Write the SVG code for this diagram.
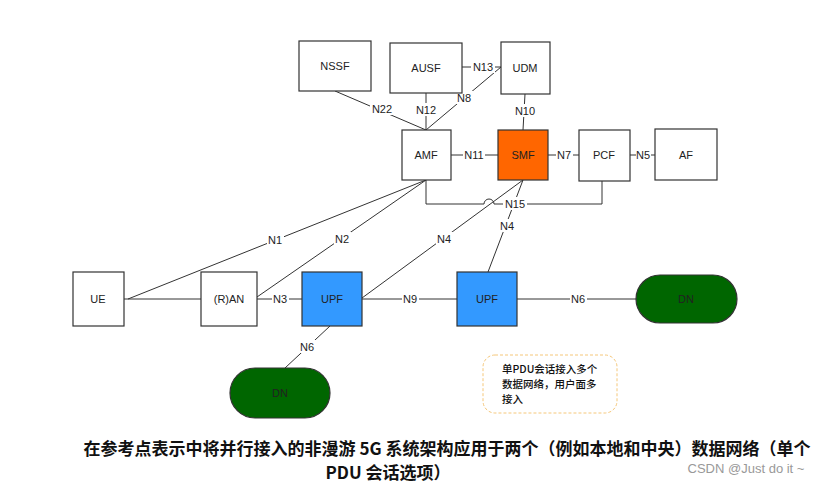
<svg xmlns="http://www.w3.org/2000/svg" width="835" height="484" viewBox="0 0 835 484">
<style>
.b{fill:#fff;stroke:#333;stroke-width:1.2}
.t{font-family:"Liberation Sans",Arial,sans-serif;font-size:11px;fill:#222;text-anchor:middle;dominant-baseline:central}
.l{font-family:"Liberation Sans",Arial,sans-serif;font-size:11px;fill:#222;text-anchor:middle;dominant-baseline:central}
.bg{fill:#fff}
.c line,.c path,.c polyline{stroke:#333;stroke-width:1;fill:none}
.cap{font-family:"Noto Sans CJK SC","Liberation Sans",sans-serif;font-size:17px;font-weight:bold;fill:#111;text-anchor:middle}
</style>
<rect width="835" height="484" fill="#fff"/>
<g class="c" id="connectors">
<line x1="335" y1="91" x2="426" y2="130"/>
<line x1="426" y1="93" x2="426" y2="130"/>
<line x1="426" y1="130" x2="501" y2="67"/>
<line x1="462" y1="67" x2="501" y2="67"/>
<line x1="525" y1="94" x2="523" y2="130"/>
<line x1="451" y1="155" x2="498" y2="155"/>
<line x1="548" y1="155" x2="579" y2="155"/>
<line x1="630" y1="155" x2="655" y2="155"/>
<path d="M426 180 V204 H484 A5 5 0 0 1 494 204 H602 V181"/>
<line x1="426" y1="180" x2="128" y2="299"/>
<line x1="124" y1="299" x2="201" y2="299"/>
<line x1="426" y1="180" x2="257" y2="297"/>
<line x1="257" y1="299" x2="302" y2="299"/>
<line x1="523" y1="180" x2="362" y2="298"/>
<line x1="523" y1="180" x2="488" y2="272"/>
<line x1="362" y1="299" x2="457" y2="299"/>
<line x1="517" y1="299" x2="636" y2="299"/>
<line x1="330" y1="326" x2="285" y2="368"/>
</g>
<g class="l">
<rect class="bg" x="267" y="233" width="17" height="13"/><text x="275" y="240">N1</text>
<rect class="bg" x="334" y="232" width="17" height="13"/><text x="342" y="239">N2</text>
<rect class="bg" x="436" y="232" width="17" height="13"/><text x="444" y="239">N4</text>
<rect class="bg" x="499" y="219" width="17" height="13"/><text x="507" y="226">N4</text>
<rect class="bg" x="503" y="197" width="24" height="13"/><text x="515" y="204">N15</text>
<rect class="bg" x="370" y="102" width="24" height="13"/><text x="382" y="109">N22</text>
<rect class="bg" x="415" y="103" width="22" height="13"/><text x="426" y="110">N12</text>
<rect class="bg" x="456" y="91" width="17" height="13"/><text x="464" y="98">N8</text>
<rect class="bg" x="471" y="60" width="24" height="13"/><text x="483" y="67">N13</text>
<rect class="bg" x="513" y="104" width="24" height="13"/><text x="525" y="111">N10</text>
<rect class="bg" x="463" y="148" width="22" height="13"/><text x="474" y="155">N11</text>
<rect class="bg" x="556" y="148" width="17" height="13"/><text x="564" y="155">N7</text>
<rect class="bg" x="636" y="148" width="15" height="13"/><text x="643" y="155">N5</text>
<rect class="bg" x="272" y="292" width="17" height="13"/><text x="280" y="299">N3</text>
<rect class="bg" x="402" y="292" width="17" height="13"/><text x="410" y="299">N9</text>
<rect class="bg" x="570" y="292" width="17" height="13"/><text x="578" y="299">N6</text>
<rect class="bg" x="299" y="340" width="17" height="13"/><text x="307" y="347">N6</text>
</g>
<g id="NSSF"><rect class="b" x="299" y="41" width="72" height="50"/><text class="t" x="335" y="66">NSSF</text></g>
<g id="AUSF"><rect class="b" x="390" y="43" width="72" height="50"/><text class="t" x="426" y="68">AUSF</text></g>
<g id="UDM"><rect class="b" x="501" y="42" width="49" height="52"/><text class="t" x="525" y="68">UDM</text></g>
<g id="AMF"><rect class="b" x="402" y="130" width="49" height="50"/><text class="t" x="426" y="155">AMF</text></g>
<g id="SMF"><rect class="b" x="498" y="130" width="50" height="50" style="fill:#ff6600"/><text class="t" x="523" y="155">SMF</text></g>
<g id="PCF"><rect class="b" x="579" y="130" width="51" height="51"/><text class="t" x="604" y="155">PCF</text></g>
<g id="AF"><rect class="b" x="655" y="129" width="62" height="51"/><text class="t" x="686" y="155">AF</text></g>
<g id="UE"><rect class="b" x="73" y="272" width="51" height="54"/><text class="t" x="98" y="299">UE</text></g>
<g id="RAN"><rect class="b" x="201" y="272" width="56" height="54"/><text class="t" x="229" y="299">(R)AN</text></g>
<g id="UPF1"><rect class="b" x="302" y="272" width="60" height="54" style="fill:#3399ff"/><text class="t" x="332" y="299">UPF</text></g>
<g id="UPF2"><rect class="b" x="457" y="272" width="60" height="54" style="fill:#3399ff"/><text class="t" x="487" y="299">UPF</text></g>
<g id="DN1"><rect class="b" x="636" y="275" width="101" height="48" rx="24" style="fill:#006600"/><text class="t" x="686" y="299">DN</text></g>
<g id="DN2"><rect class="b" x="230" y="368" width="100" height="50" rx="25" style="fill:#006600"/><text class="t" x="280" y="393">DN</text></g>
<g id="note"><rect x="483" y="355" width="134" height="58" rx="12" fill="#fff" stroke="#f5c77a" stroke-dasharray="3 2"/>
<text font-family="Noto Sans CJK SC,Liberation Sans,sans-serif" font-size="10.5" font-weight="500" fill="#111"><tspan x="502" y="373">单PDU会话接入多个</tspan><tspan x="502" y="388">数据网络，用户面多</tspan><tspan x="502" y="403">接入</tspan></text></g>
<text class="cap" x="447" y="455">在参考点表示中将并行接入的非漫游 5G 系统架构应用于两个（例如本地和中央）数据网络（单个</text>
<text class="cap" x="388" y="479">PDU 会话选项）</text>
<text x="746" y="473" font-family="Liberation Sans,sans-serif" font-size="13" fill="#999" text-anchor="middle">CSDN @Just do it ~</text>
</svg>
